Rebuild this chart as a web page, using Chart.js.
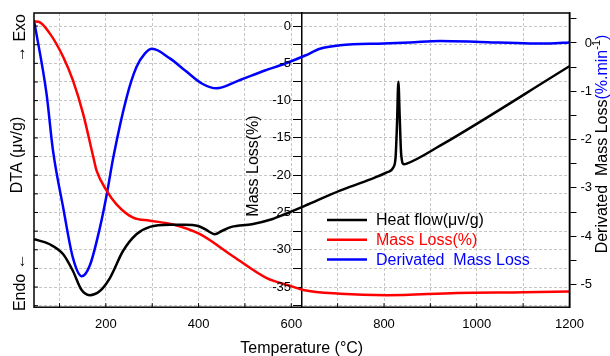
<!DOCTYPE html>
<html>
<head>
<meta charset="utf-8">
<script src="https://cdn.jsdelivr.net/npm/chart.js@4"></script>
<style>
  html, body { margin: 0; padding: 0; background: #fff; }
</style>
</head>
<body>
<canvas id="myChart" width="610" height="356"></canvas>
<script>
const fontFamily = 'Arial, "Liberation Sans", sans-serif';
const gridColor = "#c6c6c6";

// heat flow (DTA), arbitrary units (axis has no numbers)
const heatT = [45, 79, 108, 129, 147, 165, 187, 209, 237, 266, 295, 338, 370, 399, 414, 435, 450, 471, 515, 558, 586, 630, 705, 763, 806, 820, 825, 828, 831, 834, 837, 843, 849, 921, 1200];
const heatFlow = [2.31, 2.14, 1.80, 1.23, 0.60, 0.41, 0.55, 1.00, 1.91, 2.48, 2.73, 2.80, 2.80, 2.76, 2.65, 2.48, 2.59, 2.73, 2.82, 2.99, 3.16, 3.45, 3.96, 4.30, 4.58, 4.75, 5.10, 6.20, 7.66, 6.40, 5.20, 4.86, 4.88, 5.49, 8.19];

// mass loss (%)
const massT = [45, 55, 79, 108, 129, 151, 173, 180, 202, 223, 259, 295, 345, 403, 475, 547, 601, 626, 705, 806, 957, 1101, 1200];
const massLoss = [0.63, 0.58, -0.98, -4.14, -7.28, -11.77, -17.6, -19.4, -22.1, -23.9, -25.7, -26.1, -26.6, -27.9, -30.9, -33.8, -34.9, -35.4, -35.9, -36.1, -35.8, -35.7, -35.6];

// derivated mass loss (%.min-1)
const derivT = [45, 72, 86, 108, 129, 148, 166, 187, 202, 216, 245, 266, 284, 300, 338, 371, 407, 439, 486, 543, 586, 630, 662, 705, 799, 856, 921, 1007, 1115, 1158, 1200];
const derivLoss = [0.47, -1.05, -2.23, -3.41, -4.45, -4.83, -4.59, -3.83, -3.13, -2.37, -1.12, -0.50, -0.22, -0.12, -0.32, -0.57, -0.84, -0.94, -0.78, -0.57, -0.43, -0.26, -0.12, -0.05, -0.01, 0.01, 0.04, 0.02, -0.01, -0.01, 0.01];

// where the mass loss axis crosses the temperature axis
const massAxisAt = 623;

const toPoints = (xs, ys) => xs.map((x, i) => ({ x: x, y: ys[i] }));

function vText(ctx, text, x, y, size, color) {
  ctx.save();
  ctx.translate(x, y);
  ctx.rotate(-Math.PI / 2);
  ctx.font = size + "px " + fontFamily;
  ctx.fillStyle = color;
  ctx.textAlign = "center";
  ctx.textBaseline = "middle";
  ctx.fillText(text, 0, 0);
  ctx.restore();
}

const extras = {
  id: "extras",
  afterDraw(chart) {
    const { ctx, chartArea: a, scales } = chart;
    ctx.save();

    // frame
    ctx.strokeStyle = "#000";
    ctx.lineWidth = 1.5;
    ctx.strokeRect(a.left, a.top, a.right - a.left, a.bottom - a.top);

    // small inner ticks on bottom and left edges
    ctx.lineWidth = 1;
    ctx.beginPath();
    scales.x.ticks.forEach((t) => {
      const px = scales.x.getPixelForValue(t.value);
      ctx.moveTo(px, a.bottom);
      ctx.lineTo(px, a.bottom - 4);
    });
    scales.yMass.ticks.forEach((t) => {
      const py = scales.yMass.getPixelForValue(t.value);
      ctx.moveTo(a.left, py);
      ctx.lineTo(a.left + 4, py);
    });
    ctx.stroke();

    // mass loss tick labels, left of the middle axis
    const axisX = scales.x.getPixelForValue(massAxisAt);
    ctx.font = "13px " + fontFamily;
    ctx.fillStyle = "#000";
    ctx.textAlign = "right";
    ctx.textBaseline = "middle";
    scales.yMass.ticks.forEach((t) => {
      if (t.value % 5 === 0) {
        ctx.fillText(String(t.value), axisX - 11, scales.yMass.getPixelForValue(t.value));
      }
    });

    // left axis texts
    vText(ctx, "\u2192 Exo", 21, a.top + 25, 16, "#000");
    vText(ctx, "DTA (\u03bcv/g)", 18, a.top + 142, 16, "#000");
    vText(ctx, "Endo \u2190", 21, a.bottom - 25, 16, "#000");

    // middle axis title
    vText(ctx, "Mass Loss(%)", axisX - 48, a.top + 153, 16, "#000");

    // right axis title, mixed colours
    const parts = [
      { t: "Derivated  Mass Loss", c: "#000", s: 16, dy: 0 },
      { t: "(%.min", c: "#0000ff", s: 16, dy: 0 },
      { t: "-1", c: "#000", s: 11, dy: -6 },
      { t: ")", c: "#0000ff", s: 16, dy: 0 },
    ];
    ctx.save();
    ctx.translate(603, a.top + 131);
    ctx.rotate(-Math.PI / 2);
    ctx.textAlign = "left";
    ctx.textBaseline = "middle";
    let total = 0;
    parts.forEach((p) => {
      ctx.font = p.s + "px " + fontFamily;
      p.w = ctx.measureText(p.t).width;
      total += p.w;
    });
    let cx = -total / 2;
    parts.forEach((p) => {
      ctx.font = p.s + "px " + fontFamily;
      ctx.fillStyle = p.c;
      ctx.fillText(p.t, cx, p.dy);
      cx += p.w;
    });
    ctx.restore();

    // legend inside the plot
    ctx.font = "16px " + fontFamily;
    ctx.textAlign = "left";
    ctx.textBaseline = "middle";
    chart.data.datasets.forEach((ds, i) => {
      const y = a.top + 207 + i * 19.7;
      ctx.strokeStyle = ds.borderColor;
      ctx.lineWidth = 2.5;
      ctx.beginPath();
      ctx.moveTo(a.left + 293, y);
      ctx.lineTo(a.left + 333, y);
      ctx.stroke();
      ctx.fillStyle = ds.borderColor;
      ctx.fillText(ds.label, a.left + 342, y + 1);
    });

    ctx.restore();
  },
};

const lineStyle = {
  pointRadius: 0,
  borderWidth: 2.5,
  fill: false,
  cubicInterpolationMode: "monotone",
};

var ctx = document.getElementById("myChart");

new Chart(ctx, {
  type: "line",
  data: {
    datasets: [
      Object.assign({ label: "Heat flow(\u03bcv/g)", data: toPoints(heatT, heatFlow), yAxisID: "yDta", borderColor: "#000000" }, lineStyle),
      Object.assign({ label: "Mass Loss(%)", data: toPoints(massT, massLoss), yAxisID: "yMass", borderColor: "#ff0000" }, lineStyle),
      Object.assign({ label: "Derivated  Mass Loss", data: toPoints(derivT, derivLoss), yAxisID: "yDeriv", borderColor: "#0000ff" }, lineStyle),
    ],
  },
  options: {
    responsive: false,
    animation: false,
    layout: { padding: { left: 34, top: 13, right: 18, bottom: 0 } },
    plugins: { legend: { display: false }, tooltip: { enabled: false } },
    scales: {
      x: {
        type: "linear",
        position: "bottom",
        min: 45,
        max: 1200,
        ticks: {
          stepSize: 100,
          includeBounds: false,
          autoSkip: false,
          maxRotation: 0,
          padding: 9,
          color: "#000",
          font: { size: 13, family: fontFamily },
          callback: (v) => (v % 200 === 0 ? v : ""),
        },
        grid: { color: gridColor, drawTicks: false },
        border: { display: false, dash: [3, 2] },
        title: {
          display: true,
          text: "Temperature (\u00b0C)",
          color: "#000",
          font: { size: 16, family: fontFamily },
          padding: { top: -2, bottom: -2 },
        },
      },
      yDta: {
        display: false,
        position: "left",
        min: 0,
        max: 10,
      },
      yMass: {
        position: { x: massAxisAt },
        min: -37.7,
        max: 1.75,
        ticks: { stepSize: 2.5, includeBounds: false, autoSkip: false, display: false },
        grid: { color: gridColor, tickColor: "#000", tickLength: 8 },
        border: { display: true, color: "#000", width: 1.5, dash: [3, 2] },
      },
      yDeriv: {
        position: "right",
        min: -5.47,
        max: 0.62,
        ticks: {
          stepSize: 0.5,
          includeBounds: false,
          autoSkip: false,
          crossAlign: "far",
          padding: 2,
          color: "#000",
          font: { size: 13, family: fontFamily },
          callback: (v) => (Number.isInteger(v) ? v : ""),
        },
        grid: { drawOnChartArea: false, tickColor: "#000", tickLength: 7 },
        border: { display: true, color: "#000", width: 1.5 },
      },
    },
  },
  plugins: [extras],
});
</script>
</body>
</html>
